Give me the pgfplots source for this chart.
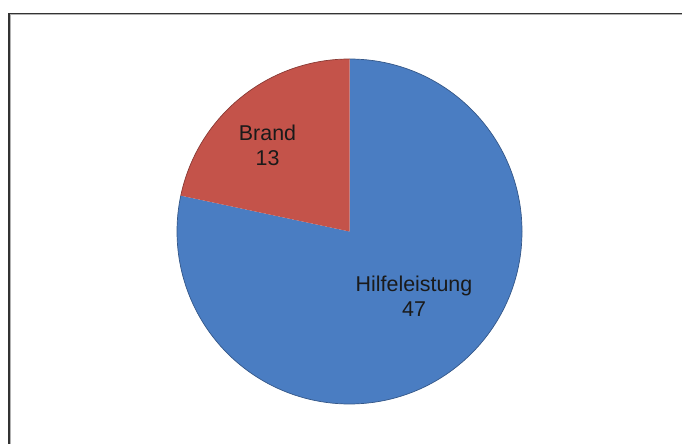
\documentclass[border=0pt]{standalone}
\usepackage{pgfplots}
\pgfplotsset{compat=1.18}
\usepackage{fontspec}
\setmainfont{Liberation Sans}
\definecolor{pieblue}{HTML}{4A7DC2}
\definecolor{piered}{HTML}{C4534A}
\definecolor{txt}{HTML}{1A1A1A}
% data
\def\valBrand{13}
\def\valHilfe{47}
\begin{document}
\begin{tikzpicture}
\useasboundingbox (0,0) rectangle (682bp,444bp);
\begin{axis}[
  at={(0,0)}, anchor=south west,
  scale only axis, width=682bp, height=444bp,
  xmin=0, xmax=682, ymin=0, ymax=444,
  hide axis, clip=false,
]
\pgfmathsetmacro{\tot}{\valBrand+\valHilfe}
\pgfmathsetmacro{\angB}{90+360*\valBrand/\tot}
% Hilfeleistung wedge (clockwise from top)
\fill[pieblue] (axis cs:349.5,212.5) -- ++(90:172.5bp) arc[start angle=90, end angle=\angB-360, radius=172.5bp] -- cycle;
% Brand wedge
\fill[piered] (axis cs:349.5,212.5) -- ++(90:172.5bp) arc[start angle=90, end angle=\angB, radius=172.5bp] -- cycle;
% outer edges
\draw[pieblue!70!black, line width=0.7bp] (axis cs:349.5,212.5) ++(90:172.5bp) arc[start angle=90, end angle=\angB-360, radius=172.5bp];
\draw[piered!70!black, line width=0.7bp] (axis cs:349.5,212.5) ++(90:172.5bp) arc[start angle=90, end angle=\angB, radius=172.5bp];
% labels
\node[txt, align=center, font=\fontsize{21.5}{25}\selectfont, inner sep=0pt] at (axis cs:267.5,299) {Brand\\\valBrand};
\node[txt, align=center, font=\fontsize{21.5}{25}\selectfont, inner sep=0pt] at (axis cs:414,148) {Hilfeleistung\\\valHilfe};
% frame (top and left edges visible)
\draw[gray!60, line width=1bp] (axis cs:10.5,0) -- (axis cs:10.5,429) -- (axis cs:682,429);
\draw[black!80, line width=1.6bp] (axis cs:9,0) -- (axis cs:9,430.5) -- (axis cs:682,430.5);
\end{axis}
\end{tikzpicture}
\end{document}
